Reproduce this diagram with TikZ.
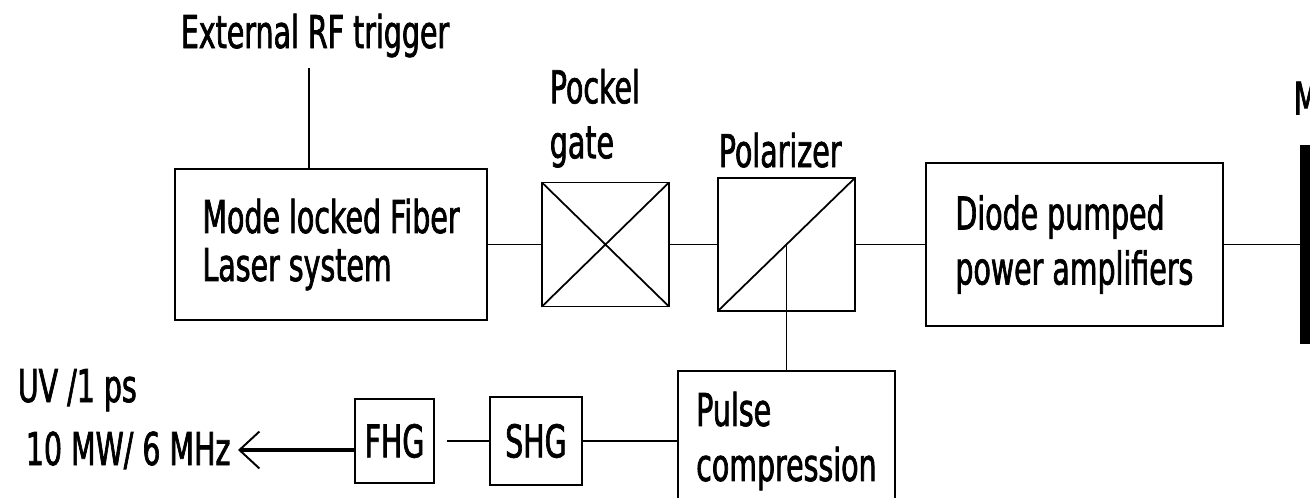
\documentclass[tikz,border=0pt]{standalone}
\usepackage{fontspec}
\setmainfont{DejaVu Sans}[FakeStretch=0.63, FakeBold=1.5]
\usetikzlibrary{arrows.meta, positioning}

\begin{document}
\begin{tikzpicture}[x=0.02cm, y=-0.02cm, line width=1pt,
  font=\fontsize{25.7}{31.3}\selectfont,
  box/.style={draw, align=left, inner sep=0pt, outer sep=0pt},
  tag/.style={inner sep=0pt}]
\useasboundingbox (0,0) rectangle (1310,497);

\node (laser) [box, minimum width=6.24cm, minimum height=3.02cm,
  font=\fontsize{25.7}{27.3}\selectfont] at (331,244.5) {Mode locked Fiber\\Laser system};
\node (pockel) [box, minimum width=2.54cm, minimum height=2.48cm, right=1.1cm of laser] {};
\node (polar) [box, minimum width=2.74cm, minimum height=2.66cm, right=0.98cm of pockel] {};
\node (amp) [box, minimum width=5.94cm, minimum height=3.26cm, right=1.42cm of polar] {Diode pumped\\power amplifiers};
\node (mirror) [fill, minimum width=0.4cm, minimum height=4cm, inner sep=0pt, outer sep=0pt, right=1.54cm of amp] {};
\node (pulse) [box, minimum width=4.34cm, minimum height=2.8cm, below=1.2cm of polar] {Pulse\\compression};
\node (shg) [box, minimum width=1.84cm, minimum height=1.76cm, left=1.92cm of pulse] {SHG};
\node (fhg) [box, minimum width=1.58cm, minimum height=1.68cm, left=1.12cm of shg] {FHG};

\node (pocklbl) [tag, anchor=south west, align=left] at ([xshift=0.14cm, yshift=0.28cm]pockel.north west) {Pockel\\gate};
\node (polarlbl) [tag, anchor=base west] at ([yshift=0.22cm]polar.north west) {Polarizer};
\node (mlbl) [tag, anchor=base west] at ([xshift=-0.14cm, yshift=0.6cm]mirror.north west) {M};
\node (rf) [tag, anchor=base west] at (180,48) {External RF trigger};
\node (uv) [tag, anchor=base west] at (17,402) {UV /1 ps};
\node (rate) [tag, anchor=base west] at (25,465) {10 MW/ 6 MHz};
\coordinate (rfline) at (309,68);
\coordinate (uvtip) at (238,450);

\path (laser) edge (pockel)
      (pockel) edge (polar)
      (polar) edge (amp)
      (amp) edge (mirror);
\draw (pockel.south west) -- (pockel.north east) (pockel.north west) -- (pockel.south east);
\draw (polar.south west) -- (polar.north east);
\draw (polar.center) -- (pulse.north);
\draw (rfline) -- (rfline |- laser.north);
\draw (shg.east) -- (pulse.west);
\draw[shorten <=0.26cm] (fhg.east) -- (shg.west);
\draw[line width=2.3pt, -{Straight Barb[length=0.4cm, width=0.74cm, line width=1.1pt]}] (fhg.west |- uvtip) -- (uvtip);
\end{tikzpicture}
\end{document}
